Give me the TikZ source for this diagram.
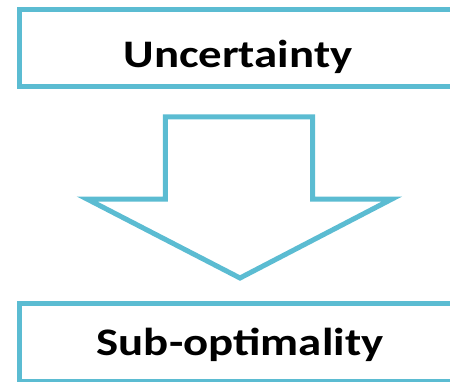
\documentclass[tikz,border=0pt]{standalone}
\usepackage{fontspec}
\setmainfont{Carlito}
\newfontfamily\stagefont[FakeStretch=1.2]{Carlito}
\usetikzlibrary{positioning}
\definecolor{frameblue}{RGB}{91,188,210}
\tikzset{
  stagebox/.style={rectangle,inner sep=0pt,minimum width=436pt,minimum height=77.4pt},
  stageframe/.style={draw=frameblue,line width=5pt,line join=miter},
  stagetxt/.style={font=\stagefont\fontsize{39}{41}\selectfont\bfseries,inner sep=0pt,anchor=base},
  bigarrow/.style={draw=frameblue,line width=5pt,fill=white,line join=miter},
}

\begin{document}
\begin{tikzpicture}[x=1pt,y=-1pt]
  \useasboundingbox (0,0) rectangle (450,381);
  % oben: Ursache, Rahmen rechts offen
  \node[stagebox] (unc) at (238,48) {};
  \draw[stageframe] (unc.north east) -- (unc.north west) -- (unc.south west) -- (unc.south east);
  \node[stagetxt] (uncT) at (238,67) {Uncertainty};
  % unten: Folge
  \node[stagebox] (sub) at (238,342.5) {};
  \draw[stageframe] (sub.north east) -- (sub.north west) -- (sub.south west) -- (sub.south east);
  \node[stagetxt] (subT) at (240,355) {Sub-optimality};
  % Blockpfeil dazwischen
  \coordinate (tip) at (240,278);
  \draw[bigarrow] (165.3,116.8) -- (312.7,116.8) -- (312.7,199) -- (392,199)
    -- (tip) -- (87,199) -- (165.3,199) -- cycle;
\end{tikzpicture}
\end{document}
